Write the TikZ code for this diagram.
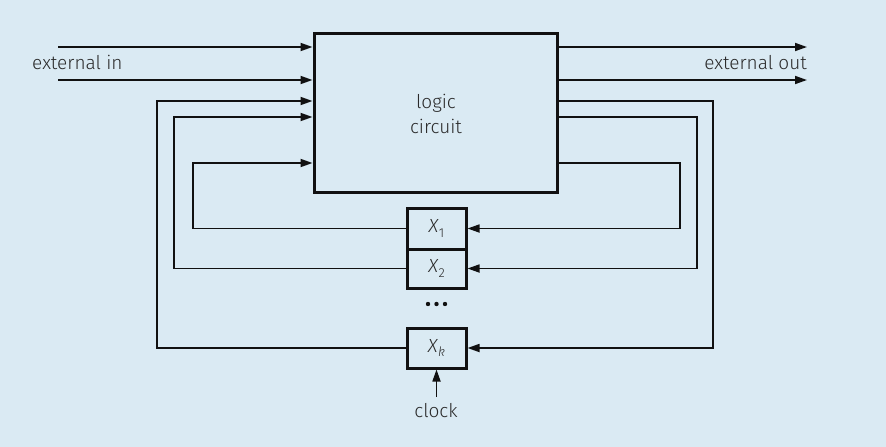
\documentclass[tikz,border=0pt]{standalone}
\usepackage{fontspec}
\setmainfont{Fira Sans Light}
\usetikzlibrary{arrows.meta}
\definecolor{bg}{HTML}{DAEAF3}
\definecolor{ink}{HTML}{111111}
\definecolor{txt}{HTML}{2A2A2A}
\tikzset{
  wire/.style={draw=ink, line width=1.7pt},
  arr/.style={wire, -{Triangle[length=12pt,width=8pt]}},
  bigbox/.style={draw=ink, line width=3pt, minimum width=243pt, minimum height=159pt, inner sep=0pt},
  regbox/.style={draw=ink, line width=3pt, minimum width=59pt, inner sep=0pt, text=txt, font=\fontsize{19}{20}\selectfont},
  lbl/.style={text=txt, font=\fontsize{19}{25}\selectfont, inner sep=0pt}
}
\newcommand{\regx}[1]{{\itshape X}\kern0.5pt\raisebox{-0.5ex}{\fontsize{13}{14}\selectfont #1}}
\begin{document}
\begin{tikzpicture}[x=1pt,y=-1pt]
\fill[bg] (0,0) rectangle (886,447);
\useasboundingbox (0,0) rectangle (886,447);
% main box
\node[bigbox] (main) at (435.5,112.5) {};
\node[lbl, align=center] (logic) at (436,114) {logic\\circuit};
% registers
\node[regbox, minimum height=41pt] (r1) at (436.5,228.5) {\regx{1}};
\node[regbox, minimum height=39pt] (r2) at (436.5,268.5) {\regx{2}};
\node[regbox, minimum height=40pt] (rk) at (436.5,348) {\regx{\itshape k}};
\fill[ink] (428,304) circle (2.2pt) (436.5,304) circle (2.2pt) (445,304) circle (2.2pt);
% external inputs
\coordinate (in1) at (58,47);
\coordinate (in2) at (58,80);
\draw[arr] (in1) -- (in1 -| main.west);
\draw[arr] (in2) -- (in2 -| main.west);
\node[lbl, anchor=base west] (extin) at (32,69) {external in};
% external outputs
\coordinate (out1) at (807,47);
\coordinate (out2) at (807,80);
\draw[arr] (out1 -| main.east) -- (out1);
\draw[arr] (out2 -| main.east) -- (out2);
\node[lbl, anchor=base east] (extout) at (807,69) {external out};
% feedback loop 1
\coordinate (o1) at (557,163);
\coordinate (c1r) at (680,163);
\coordinate (c1l) at (193,163);
\draw[arr] (o1) -- (c1r) |- (r1.east);
\draw[arr] (r1.west) -| (c1l) -- (c1l -| main.west);
% feedback loop 2
\coordinate (c2r) at (697,117);
\coordinate (c2l) at (174,117);
\draw[arr] (c2r -| main.east) -- (c2r) |- (r2.east);
\draw[arr] (r2.west) -| (c2l) -- (c2l -| main.west);
% feedback loop k
\coordinate (ckr) at (713,101);
\coordinate (ckl) at (157,101);
\draw[arr] (ckr -| main.east) -- (ckr) |- (rk.east);
\draw[arr] (rk.west) -| (ckl) -- (ckl -| main.west);
% clock
\coordinate (clk) at (436.5,397);
\draw[arr] (clk) -- (rk.south);
\node[lbl, anchor=north] (clock) at (436,403) {clock};
\end{tikzpicture}
\end{document}
